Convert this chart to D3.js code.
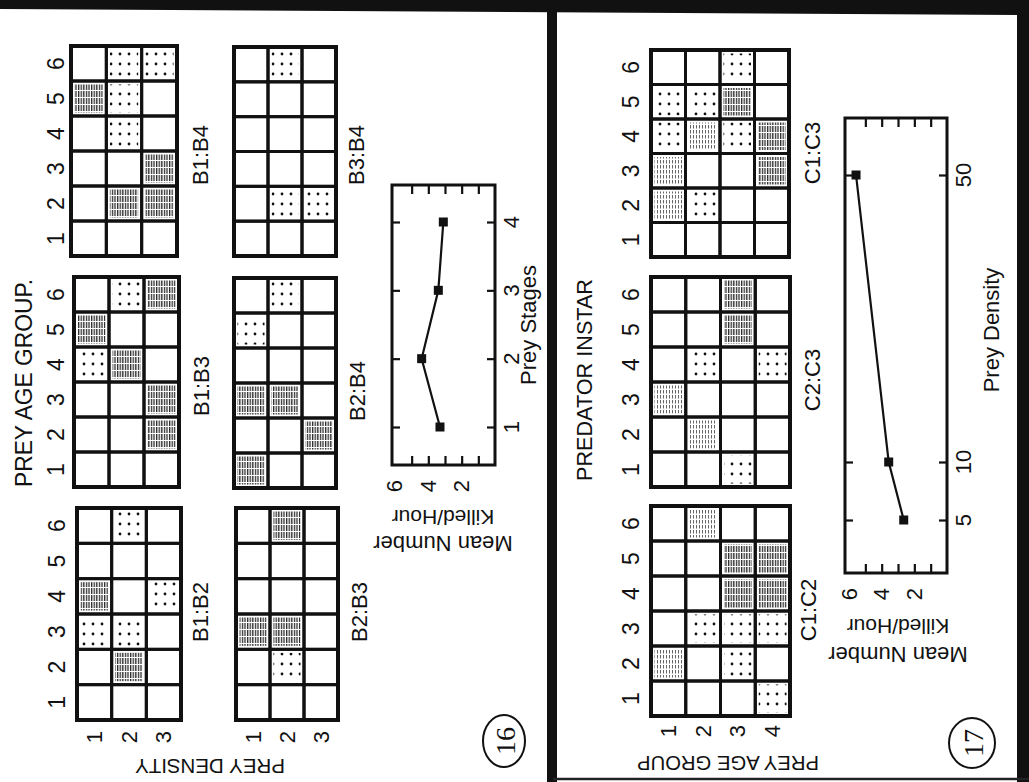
<!DOCTYPE html>
<html>
<head>
<meta charset="utf-8">
<script src="https://cdn.jsdelivr.net/npm/d3@7"></script>
<style>
  body { margin: 0; background: #fff; }
  svg { display: block; }
  text { font-family: "Liberation Sans", Arial, sans-serif; fill: #111; }
</style>
</head>
<body>
<svg width="1029" height="782"></svg>
<script>
// ---- data ----
const preyAgeGroups = [1, 2, 3, 4, 5, 6];
const instars = [1, 2, 3, 4, 5, 6];
const preyDensities = [1, 2, 3];
const ageGroups = [1, 2, 3, 4];

// cell codes, rows from top (6) to bottom (1): 0 blank, 1 dots, 2 light hatch, 3 dark hatch
const b1b4 = [[0,1,1],[3,1,0],[0,1,0],[0,0,3],[0,3,3],[0,0,0]];
const b3b4 = [[0,1,0],[0,0,0],[0,0,0],[0,0,0],[0,1,1],[0,0,0]];
const b1b3 = [[0,1,3],[3,0,0],[1,3,0],[0,0,3],[0,0,3],[0,0,0]];
const b2b4 = [[0,1,0],[1,0,0],[0,0,0],[3,3,0],[0,0,3],[3,0,0]];
const b1b2 = [[0,1,0],[0,0,0],[3,0,1],[1,1,0],[0,3,0],[0,0,0]];
const b2b3 = [[0,3,0],[0,0,0],[0,0,0],[3,3,0],[0,1,0],[0,0,0]];
const c1c3 = [[0,0,1,0],[1,1,3,0],[1,2,1,3],[2,0,0,3],[2,1,0,0],[0,0,0,0]];
const c2c3 = [[0,0,3,0],[0,0,3,0],[0,1,0,1],[2,0,0,0],[0,2,0,0],[0,0,1,0]];
const c1c2 = [[0,2,0,0],[0,0,3,3],[0,0,3,3],[0,1,1,1],[2,0,1,0],[0,0,0,1]];

const preyStages = [1, 2, 3, 4];
const killedByStage = [3.3, 4.4, 3.4, 3.1];
const preyDensity = [5, 10, 50];
const killedByDensity = [2.65, 3.57, 5.57];
const killedTicks = [1, 2, 3, 4, 5];
const killedLabels = [6, 4, 2];

// ---- layout ----
const svg = d3.select("svg");
const defs = svg.append("defs");

defs.append("pattern").attr("id", "dots")
    .attr("patternUnits", "userSpaceOnUse").attr("width", 9).attr("height", 10)
  .append("circle").attr("cx", 3).attr("cy", 4).attr("r", 1.4).attr("fill", "#111");

const hatch = defs.append("pattern").attr("id", "hatch")
    .attr("patternUnits", "userSpaceOnUse").attr("width", 2.6).attr("height", 7);
hatch.append("rect").attr("width", 1.3).attr("height", 6).attr("fill", "#2a2a2a");

const light = defs.append("pattern").attr("id", "lighthatch")
    .attr("patternUnits", "userSpaceOnUse").attr("width", 3).attr("height", 5);
light.append("rect").attr("width", 1).attr("height", 3.5).attr("fill", "#666");

const fills = [null, "url(#dots)", "url(#lighthatch)", "url(#hatch)"];

function rotText(x, y, str, angle, size, opts = {}) {
  const t = svg.append("text")
      .attr("transform", `translate(${x},${y}) rotate(${angle})`)
      .attr("text-anchor", "middle")
      .attr("dominant-baseline", "central")
      .attr("font-size", size)
      .text(str);
  if (opts.family) t.style("font-family", opts.family);
  if (opts.len) t.attr("textLength", opts.len).attr("lengthAdjust", "spacingAndGlyphs");
  return t;
}

// borders of the scanned page
svg.append("path").attr("d", "M0,0 L1029,0 L1029,15 L0,9 Z").attr("fill", "#111");
svg.append("rect").attr("x", 547).attr("y", 0).attr("width", 10).attr("height", 782).attr("fill", "#111");
svg.append("rect").attr("x", 1017).attr("y", 0).attr("width", 12).attr("height", 782).attr("fill", "#111");
svg.append("line").attr("x1", 553).attr("x2", 1029).attr("y1", 779).attr("y2", 779)
    .attr("stroke", "#222").attr("stroke-width", 2.5);

const grids = [
  { name: "B1:B4", cells: b1b4, cols: preyDensities, rows: preyAgeGroups, x: 71, y: 46, w: 106, h: 210, lx: 200, ly: 155, rx: 56 },
  { name: "B3:B4", cells: b3b4, cols: preyDensities, rows: preyAgeGroups, x: 234, y: 47, w: 102, h: 209, lx: 356, ly: 155 },
  { name: "B1:B3", cells: b1b3, cols: preyDensities, rows: preyAgeGroups, x: 74, y: 277, w: 105, h: 210, lx: 201, ly: 386, rx: 56 },
  { name: "B2:B4", cells: b2b4, cols: preyDensities, rows: preyAgeGroups, x: 234, y: 278, w: 102, h: 210, lx: 357, ly: 391 },
  { name: "B1:B2", cells: b1b2, cols: preyDensities, rows: preyAgeGroups, x: 77, y: 508, w: 104, h: 212, lx: 200, ly: 612, rx: 57, cy: 737 },
  { name: "B2:B3", cells: b2b3, cols: preyDensities, rows: preyAgeGroups, x: 236, y: 508, w: 102, h: 212, lx: 359, ly: 612, cy: 737 },
  { name: "C1:C3", cells: c1c3, cols: ageGroups, rows: instars, x: 651, y: 50, w: 138, h: 207, lx: 812, ly: 153, rx: 631 },
  { name: "C2:C3", cells: c2c3, cols: ageGroups, rows: instars, x: 651, y: 277, w: 139, h: 210, lx: 812, ly: 380, rx: 631 },
  { name: "C1:C2", cells: c1c2, cols: ageGroups, rows: instars, x: 651, y: 506, w: 139, h: 210, lx: 808, ly: 610, rx: 631, cy: 731 }
];

grids.forEach(gd => {
  const x = d3.scaleBand().domain(gd.cols).range([gd.x, gd.x + gd.w]);
  const y = d3.scaleBand().domain(gd.rows.slice().reverse()).range([gd.y, gd.y + gd.h]);
  const g = svg.append("g");

  const cells = [];
  gd.rows.slice().reverse().forEach((r, i) => {
    gd.cols.forEach((c, j) => cells.push({ r, c, v: gd.cells[i][j] }));
  });

  g.selectAll("rect.fill").data(cells.filter(d => d.v > 0)).join("rect")
      .attr("class", "fill")
      .attr("x", d => x(d.c) + 3.5)
      .attr("y", d => y(d.r) + 3.5)
      .attr("width", x.bandwidth() - 7)
      .attr("height", y.bandwidth() - 7)
      .attr("fill", d => fills[d.v]);

  g.selectAll("rect.cell").data(cells).join("rect")
      .attr("class", "cell")
      .attr("x", d => x(d.c))
      .attr("y", d => y(d.r))
      .attr("width", x.bandwidth())
      .attr("height", y.bandwidth())
      .attr("fill", "none")
      .attr("stroke", "#111")
      .attr("stroke-width", 3);

  g.append("rect").attr("x", gd.x).attr("y", gd.y).attr("width", gd.w).attr("height", gd.h)
      .attr("fill", "none").attr("stroke", "#111").attr("stroke-width", 4);

  rotText(gd.lx, gd.ly, gd.name, -90, 22);

  if (gd.rx !== undefined) {
    gd.rows.forEach(r => rotText(gd.rx, y(r) + y.bandwidth() / 2, r, -90, 23));
  }
  if (gd.cy !== undefined) {
    gd.cols.forEach(c => rotText(x(c) + x.bandwidth() / 2, gd.cy, c, -90, 22));
  }
});

// axis titles
rotText(24, 383, "PREY AGE GROUP.", -90, 23, { len: 208 });
rotText(210, 766, "PREY DENSITY", 180, 21, { len: 150 });
rotText(584, 380, "PREDATOR INSTAR", -90, 22, { len: 202 });
rotText(728, 763, "PREY AGE GROUP", 180, 21, { len: 182 });

// ---- line charts ----
function lineChart(box, yScale, yValues, values, yTickLabels, yTitle, mean) {
  const vx = d3.scaleLinear().domain([0, 6]).range([box.x1, box.x1 - box.unit * 6]);
  const g = svg.append("g");
  const noDomain = s => s.select(".domain").remove();

  g.append("g").attr("transform", `translate(${box.x0},0)`)
      .call(d3.axisRight(yScale).tickValues(yValues).tickSize(8).tickFormat("")).call(noDomain);
  g.append("g").attr("transform", `translate(${box.x1},0)`)
      .call(d3.axisLeft(yScale).tickValues(yValues).tickSize(8).tickFormat("")).call(noDomain);
  g.append("g").attr("transform", `translate(0,${box.y0})`)
      .call(d3.axisBottom(vx).tickValues(killedTicks).tickSize(9).tickFormat("")).call(noDomain);
  g.append("g").attr("transform", `translate(0,${box.y1})`)
      .call(d3.axisTop(vx).tickValues(killedTicks).tickSize(9).tickFormat("")).call(noDomain);
  g.selectAll(".tick line").attr("stroke", "#111").attr("stroke-width", 2.2);

  g.append("rect").attr("x", box.x0).attr("y", box.y0)
      .attr("width", box.x1 - box.x0).attr("height", box.y1 - box.y0)
      .attr("fill", "none").attr("stroke", "#111").attr("stroke-width", 3);

  const pts = yValues.map((s, i) => ({ s, v: values[i] }));
  g.append("path").datum(pts)
      .attr("d", d3.line().x(d => vx(d.v)).y(d => yScale(d.s)))
      .attr("fill", "none").attr("stroke", "#111").attr("stroke-width", 2.2);
  g.selectAll("rect.pt").data(pts).join("rect")
      .attr("class", "pt")
      .attr("x", d => vx(d.v) - 4.5).attr("y", d => yScale(d.s) - 4.5)
      .attr("width", 9).attr("height", 9).attr("fill", "#111");

  yValues.forEach(s => rotText(box.x1 + 16, yScale(s), s, -90, 22));
  yTickLabels.forEach(v => rotText(vx(v), box.y1 + 21, v, -90, 22));
  rotText(box.titleX, box.titleY, yTitle, -90, 22);
  rotText(mean.x, mean.y1, "Killed/Hour", 180, 21);
  rotText(mean.x, mean.y2, "Mean Number", 180, 22);
}

const stageY = d3.scaleLinear().domain([1, 4]).range([427, 222]);
lineChart({ x0: 392, x1: 495, y0: 185, y1: 465, unit: 16.67, titleX: 528, titleY: 325 },
  stageY, preyStages, killedByStage, killedLabels, "Prey Stages", { x: 443, y1: 517, y2: 543 });

const densityY = d3.scaleLinear().domain([5, 10, 50]).range([520, 462, 175]);
lineChart({ x0: 845, x1: 947, y0: 118, y1: 573, unit: 16.33, titleX: 991, titleY: 330 },
  densityY, preyDensity, killedByDensity, killedLabels, "Prey Density", { x: 898, y1: 626, y2: 654 });

// figure numbers
[{ n: "16", x: 504, y: 741, rx: 21, ry: 26 }, { n: "17", x: 972, y: 743, rx: 23, ry: 25 }].forEach(f => {
  svg.append("ellipse").attr("cx", f.x).attr("cy", f.y).attr("rx", f.rx).attr("ry", f.ry)
      .attr("fill", "none").attr("stroke", "#111").attr("stroke-width", 2);
  rotText(f.x + 1, f.y, f.n, -90, 28, { family: "'Liberation Serif', 'DejaVu Serif', serif" });
});
</script>
</body>
</html>
